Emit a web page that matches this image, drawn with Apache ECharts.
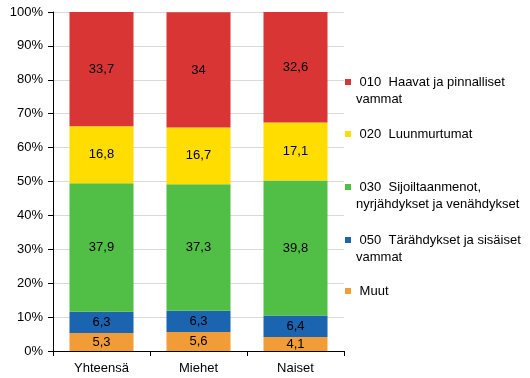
<!DOCTYPE html>
<html><head><meta charset="utf-8">
<script src="https://cdn.jsdelivr.net/npm/echarts@6/dist/echarts.min.js"></script>
<style>html,body{margin:0;padding:0;background:#fff}#c{width:530px;height:378px}</style>
</head><body><div id="c"></div>
<script>
const categories = ['Yhteensä', 'Miehet', 'Naiset'];
const muut = [5.3, 5.6, 4.1];
const s050 = [6.3, 6.3, 6.4];
const s030 = [37.9, 37.3, 39.8];
const s020 = [16.8, 16.7, 17.1];
const s010 = [33.7, 34, 32.6];
const yTicks = ['0%', '10%', '20%', '30%', '40%', '50%', '60%', '70%', '80%', '90%', '100%'];
const seriesNames = [' Muut', ' 050  Tärähdykset ja sisäiset\nvammat', ' 030  Sijoiltaanmenot,\nnyrjähdykset ja venähdykset', ' 020  Luunmurtumat', ' 010  Haavat ja pinnalliset\nvammat'];
const seriesData = [muut, s050, s030, s020, s010];
const colors = ['#f19c36', '#1b64b0', '#51bf45', '#ffdd00', '#da3535'];
const iconCenters = [291, 240, 187, 134, 82];

const font = 'Liberation Sans, Arial, sans-serif';
const chart = echarts.init(document.getElementById('c'), null, {renderer: 'canvas'});
const series = seriesData.map((d, i) => ({
  name: seriesNames[i],
  type: 'bar',
  stack: 'total',
  barWidth: '66%',
  data: d,
  itemStyle: {color: colors[i]},
  label: {
    show: true, position: 'inside', color: '#000', fontFamily: font, fontSize: 13,
    formatter: p => String(p.value).replace('.', ',')
  }
}));
const legends = seriesNames.map((n, i) => {
  const twoLine = n.indexOf('\n') >= 0;
  return {
    data: [n], left: 345, top: iconCenters[i] - (twoLine ? 25.5 : 8.5), orient: 'vertical',
    icon: 'rect', itemWidth: 6, itemHeight: 6, itemGap: 0,
    formatter: name => (name.indexOf('\n') >= 0 ? '\n' + name : name),
    textStyle: {fontFamily: font, fontSize: 13, color: '#000', lineHeight: 17},
    padding: 0, selectedMode: false
  };
});
chart.setOption({
  animation: false,
  textStyle: {fontFamily: font},
  grid: {left: 53, top: 12, right: 186, bottom: 27, containLabel: false},
  legend: legends,
  xAxis: {
    type: 'category', data: categories,
    axisLine: {lineStyle: {color: '#000'}},
    axisTick: {show: true, length: 5, lineStyle: {color: '#000'}},
    axisLabel: {color: '#000', fontSize: 13, fontFamily: font, margin: 11}
  },
  yAxis: {
    type: 'value', min: 0, max: 100, interval: 10,
    axisLine: {show: true, lineStyle: {color: '#000'}},
    axisTick: {show: true, length: 5, lineStyle: {color: '#000'}},
    axisLabel: {color: '#000', fontSize: 13, fontFamily: font, margin: 10,
      formatter: v => yTicks[Math.round(v / 10)]},
    splitLine: {lineStyle: {color: '#d9d9d9'}}
  },
  series: series
});
</script></body></html>
